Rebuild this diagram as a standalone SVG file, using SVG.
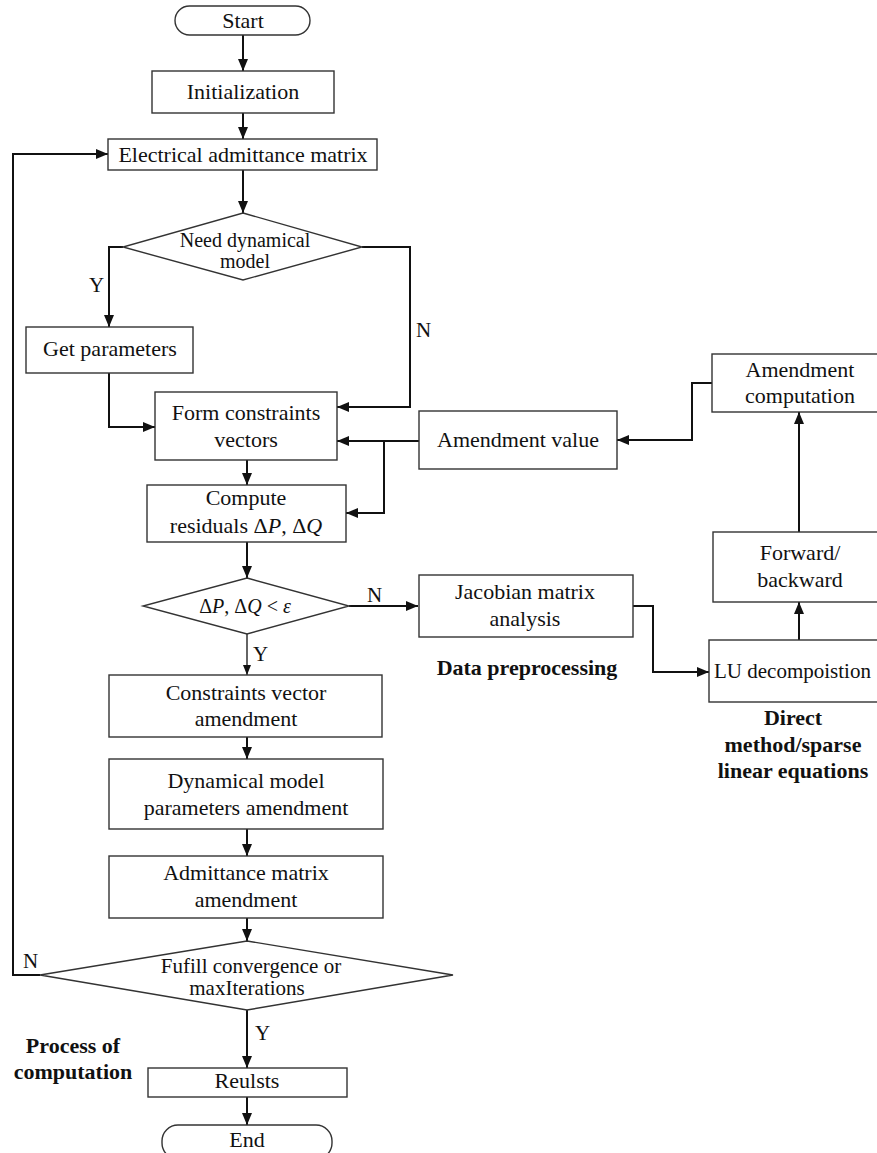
<svg xmlns="http://www.w3.org/2000/svg" width="877" height="1153" viewBox="0 0 877 1153">
  <style>
    text { font-family: "Liberation Serif", "Times New Roman", serif; font-size: 22px; fill: #111; text-anchor: middle; }
    .sm { font-size: 20px; }
    .md { font-size: 21px; }
    .lbl { text-anchor: start; font-size: 21px; }
    .bold { font-weight: bold; }
    .i { font-style: italic; }
    .box { fill: #fff; stroke: #333; stroke-width: 1.4; }
    .wire { fill: none; stroke: #111; stroke-width: 2; }
    .thin { fill: none; stroke: #111; stroke-width: 1.3; }
  </style>
  <defs>
    <marker id="arrow" viewBox="0 0 12 10" refX="12" refY="5" markerWidth="12" markerHeight="10" markerUnits="userSpaceOnUse" orient="auto">
      <path d="M0,0 L12,5 L0,10 Z" fill="#111"/>
    </marker>
    <marker id="arrowSm" viewBox="0 0 10 8" refX="10" refY="4" markerWidth="10" markerHeight="8" markerUnits="userSpaceOnUse" orient="auto">
      <path d="M0,0 L10,4 L0,8 Z" fill="#111"/>
    </marker>
  </defs>
  <rect width="877" height="1153" fill="#fff"/>

  <!-- connectors -->
  <g id="connectors">
    <path class="wire" d="M243,35 V71" marker-end="url(#arrow)"/>
    <path class="wire" d="M243,113 V139" marker-end="url(#arrow)"/>
    <path class="wire" d="M243,170 V213" marker-end="url(#arrow)"/>
    <path class="wire" d="M123,247 H109 V327" marker-end="url(#arrow)"/>
    <path class="wire" d="M362,247 H410 V407 H337" marker-end="url(#arrow)"/>
    <path class="wire" d="M109,373 V427 H155" marker-end="url(#arrow)"/>
    <path class="wire" d="M247,460 V485" marker-end="url(#arrow)"/>
    <path class="wire" d="M419,441 H337" marker-end="url(#arrow)"/>
    <path class="wire" d="M384,441 V513 H346" marker-end="url(#arrow)"/>
    <path class="wire" d="M247,542 V578" marker-end="url(#arrow)"/>
    <path class="wire" d="M349,606 H418" marker-end="url(#arrow)"/>
    <path class="thin" d="M247,634 V675" marker-end="url(#arrowSm)"/>
    <path class="wire" d="M247,737 V759" marker-end="url(#arrow)"/>
    <path class="wire" d="M247,829 V856" marker-end="url(#arrow)"/>
    <path class="wire" d="M247,918 V941" marker-end="url(#arrow)"/>
    <path class="wire" d="M40,975 H13 V154 H108" marker-end="url(#arrow)"/>
    <path class="wire" d="M247,1010 V1068" marker-end="url(#arrow)"/>
    <path class="wire" d="M247,1097 V1125" marker-end="url(#arrow)"/>
    <path class="wire" d="M633,606 H653 V672 H709" marker-end="url(#arrow)"/>
    <path class="wire" d="M799,640 V602" marker-end="url(#arrow)"/>
    <path class="wire" d="M799,532 V412" marker-end="url(#arrow)"/>
    <path class="wire" d="M712,383 H692 V440 H617" marker-end="url(#arrow)"/>
  </g>

  <!-- branch labels -->
  <g id="branch-labels">
    <text class="lbl" x="89" y="292">Y</text>
    <text class="lbl" x="416" y="337">N</text>
    <text class="lbl" x="367" y="602">N</text>
    <text class="lbl" x="253" y="661">Y</text>
    <text class="lbl" x="23" y="968">N</text>
    <text class="lbl" x="255" y="1040">Y</text>
  </g>

  <g id="start">
    <rect class="box" x="175" y="6" width="135" height="29" rx="14.5"/>
    <text x="243" y="28">Start</text>
  </g>
  <g id="init">
    <rect class="box" x="152" y="71" width="182" height="42"/>
    <text x="243" y="99">Initialization</text>
  </g>
  <g id="admittance-matrix">
    <rect class="box" x="108" y="139" width="269" height="31"/>
    <text x="243" y="162">Electrical admittance matrix</text>
  </g>
  <g id="need-model">
    <polygon class="box" points="243,213 362,247 243,280 123,247"/>
    <text class="sm" x="245" y="247">Need dynamical</text>
    <text class="sm" x="245" y="268">model</text>
  </g>
  <g id="get-params">
    <rect class="box" x="26" y="327" width="167" height="46"/>
    <text x="110" y="356">Get parameters</text>
  </g>
  <g id="form-vectors">
    <rect class="box" x="155" y="392" width="182" height="68"/>
    <text x="246" y="420">Form constraints</text>
    <text x="246" y="447">vectors</text>
  </g>
  <g id="amend-value">
    <rect class="box" x="419" y="411" width="198" height="58"/>
    <text x="518" y="447">Amendment value</text>
  </g>
  <g id="amend-comp">
    <rect class="box" x="712" y="354" width="180" height="58"/>
    <text x="800" y="377">Amendment</text>
    <text x="800" y="403">computation</text>
  </g>
  <g id="compute-residuals">
    <rect class="box" x="147" y="485" width="199" height="57"/>
    <text x="246" y="505">Compute</text>
    <text x="246" y="533">residuals Δ<tspan class="i">P</tspan>, Δ<tspan class="i">Q</tspan></text>
  </g>
  <g id="residual-check">
    <polygon class="box" points="247,578 349,606 247,634 143,606"/>
    <text class="sm" x="245" y="613">Δ<tspan class="i">P</tspan>, Δ<tspan class="i">Q</tspan> &lt; <tspan class="i">ε</tspan></text>
  </g>
  <g id="jacobian">
    <rect class="box" x="419" y="575" width="214" height="62"/>
    <text x="525" y="599">Jacobian matrix</text>
    <text x="525" y="626">analysis</text>
  </g>
  <g id="forward-backward">
    <rect class="box" x="713" y="532" width="180" height="70"/>
    <text x="800" y="560">Forward/</text>
    <text x="800" y="587">backward</text>
  </g>
  <g id="lu">
    <rect class="box" x="709" y="640" width="184" height="62"/>
    <text x="714" y="678" style="text-anchor:start;font-size:21px">LU decompoistion</text>
  </g>
  <g id="constraints-amend">
    <rect class="box" x="109" y="675" width="273" height="62"/>
    <text x="246" y="700">Constraints vector</text>
    <text x="246" y="726">amendment</text>
  </g>
  <g id="model-amend">
    <rect class="box" x="109" y="759" width="274" height="70"/>
    <text x="246" y="788">Dynamical model</text>
    <text x="246" y="815">parameters amendment</text>
  </g>
  <g id="admittance-amend">
    <rect class="box" x="109" y="856" width="274" height="62"/>
    <text x="246" y="880">Admittance matrix</text>
    <text x="246" y="907">amendment</text>
  </g>
  <g id="convergence">
    <polygon class="box" points="247,941 453,975 247,1010 40,975"/>
    <text class="md" x="251" y="973">Fufill convergence or</text>
    <text class="md" x="247" y="995">maxIterations</text>
  </g>
  <g id="results">
    <rect class="box" x="148" y="1068" width="199" height="29"/>
    <text x="247" y="1088">Reulsts</text>
  </g>
  <g id="end">
    <rect class="box" x="162" y="1125" width="170" height="34" rx="16"/>
    <text x="247" y="1147">End</text>
  </g>

  <!-- section captions -->
  <g id="captions">
    <text class="bold" x="527" y="675">Data preprocessing</text>
    <text class="bold" x="793" y="725">Direct</text>
    <text class="bold" x="793" y="752">method/sparse</text>
    <text class="bold" x="793" y="778">linear equations</text>
    <text class="bold" x="73" y="1053">Process of</text>
    <text class="bold" x="73" y="1079">computation</text>
  </g>
</svg>
